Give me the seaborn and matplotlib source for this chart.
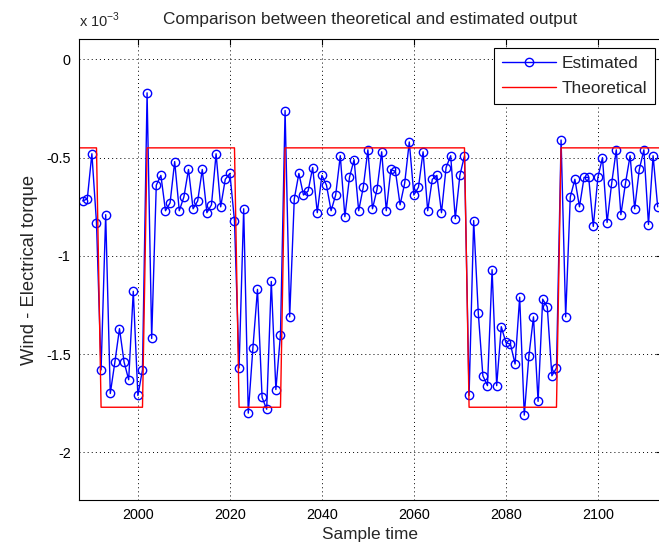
import numpy as np
import pandas as pd
import matplotlib
matplotlib.use("Agg")
import matplotlib.pyplot as plt
import seaborn as sns

# Sample times of the estimated series
t_start, t_end = 1988, 2113
sample_time = np.arange(t_start, t_end + 1)

# Estimated wind - electrical torque (units of 1e-3), one value per sample
estimated = [
    -0.72, -0.71, -0.48, -0.83,                                      # 1988-1991
    -1.58, -0.79, -1.70, -1.54, -1.37, -1.54, -1.63, -1.18, -1.71, -1.58,  # 1992-2001
    -0.17, -1.42, -0.64, -0.59, -0.77, -0.73, -0.52, -0.77, -0.70, -0.56,  # 2002-2011
    -0.76, -0.72, -0.56, -0.78, -0.74, -0.48, -0.75, -0.61, -0.58, -0.82,  # 2012-2021
    -1.57, -0.76, -1.80, -1.47, -1.17, -1.72, -1.78, -1.13, -1.68, -1.40,  # 2022-2031
    -0.26, -1.31, -0.71, -0.58, -0.69, -0.67, -0.55, -0.78, -0.59, -0.64,  # 2032-2041
    -0.77, -0.69, -0.49, -0.80, -0.60, -0.51, -0.77, -0.65, -0.46, -0.76,  # 2042-2051
    -0.66, -0.47, -0.77, -0.56, -0.57, -0.74, -0.63, -0.42, -0.69, -0.65,  # 2052-2061
    -0.47, -0.77, -0.61, -0.59, -0.78, -0.55, -0.49, -0.81, -0.59, -0.49,  # 2062-2071
    -1.71, -0.82, -1.29, -1.61, -1.66, -1.07, -1.66, -1.36, -1.44, -1.45,  # 2072-2081
    -1.55, -1.21, -1.81, -1.51, -1.31, -1.74, -1.22, -1.26, -1.61, -1.57,  # 2082-2091
    -0.41, -1.31, -0.70, -0.61, -0.75, -0.60, -0.60, -0.85, -0.60, -0.50,  # 2092-2101
    -0.83, -0.63, -0.46, -0.79, -0.63, -0.49, -0.76, -0.56, -0.46, -0.84,  # 2102-2111
    -0.49, -0.75,                                                    # 2112-2113
]

# Theoretical torque: constant levels held over runs of samples (first, last, level)
high_level, low_level = -0.45, -1.77
theory_runs = [
    (1987, 1991, high_level),
    (1992, 2001, low_level),
    (2002, 2021, high_level),
    (2022, 2031, low_level),
    (2032, 2071, high_level),
    (2072, 2091, low_level),
    (2092, 2114, high_level),
]
theory_time, theoretical = [], []
for first, last, level in theory_runs:
    theory_time += list(range(first, last + 1))
    theoretical += [level] * (last - first + 1)

x_ticks = [2000, 2020, 2040, 2060, 2080, 2100]
y_ticks = [0, -0.5, -1, -1.5, -2]
y_ticklabels = ["0", "-0.5", "-1", "-1.5", "-2"]

est_df = pd.DataFrame({"t": sample_time, "torque": estimated})
theo_df = pd.DataFrame({"t": theory_time, "torque": theoretical})

sns.set_style("white")
plt.rcParams["font.family"] = ["Liberation Sans", "DejaVu Sans"]
plt.rcParams["mathtext.fontset"] = "custom"
plt.rcParams["mathtext.rm"] = "Liberation Sans"

LABEL_FS = 12.4
TICK_FS = 10.4

fig = plt.figure(figsize=(6.59, 5.50), dpi=100)
fig.patch.set_facecolor("white")
ax = fig.add_axes([79 / 659, 50 / 550, (662 - 79) / 659, 461 / 550])

sns.lineplot(data=est_df, x="t", y="torque", ax=ax, color="#0000ff", lw=1.0,
             marker="o", markersize=6, markerfacecolor="none",
             markeredgecolor="#0000ff", markeredgewidth=1.0,
             label="Estimated", sort=False, estimator=None)
sns.lineplot(data=theo_df, x="t", y="torque", ax=ax, color="#ff0000", lw=1.0,
             label="Theoretical", sort=False, estimator=None)

ax.set_xlim(1987.2, 1987.2 + 583 / 4.6)
ax.set_ylim(-2.242, 0.104)
ax.set_xticks(x_ticks)
ax.set_yticks(y_ticks)
ax.set_yticklabels(y_ticklabels)

ax.grid(True, color="black", linestyle=(0, (1, 3.2)), linewidth=0.7)
ax.tick_params(direction="in", length=4, width=0.8, top=True, right=True,
               labelsize=TICK_FS, colors="black", pad=6)
for s in ax.spines.values():
    s.set_color("black")
    s.set_linewidth(0.8)

ax.set_xlabel("Sample time", fontsize=LABEL_FS, labelpad=3)
ax.set_ylabel("Wind - Electrical torque", fontsize=13.2, labelpad=6)
ax.set_title("Comparison between theoretical and estimated output",
             fontsize=LABEL_FS, pad=11)
fig.text(79 / 659, 1 - 27 / 550, r"x 10$^{-3}$", fontsize=10.5,
         ha="left", va="baseline")

leg = ax.legend(loc="upper right", bbox_to_anchor=(655 / 659, 1 - 48 / 550),
                bbox_transform=fig.transFigure, fontsize=LABEL_FS,
                frameon=True, fancybox=False, framealpha=1, edgecolor="black",
                handlelength=3.1, borderpad=0.45, labelspacing=0.6,
                handletextpad=0.35, borderaxespad=0)
leg.get_frame().set_linewidth(0.8)

fig.savefig("out.png", dpi=100, facecolor="white")
